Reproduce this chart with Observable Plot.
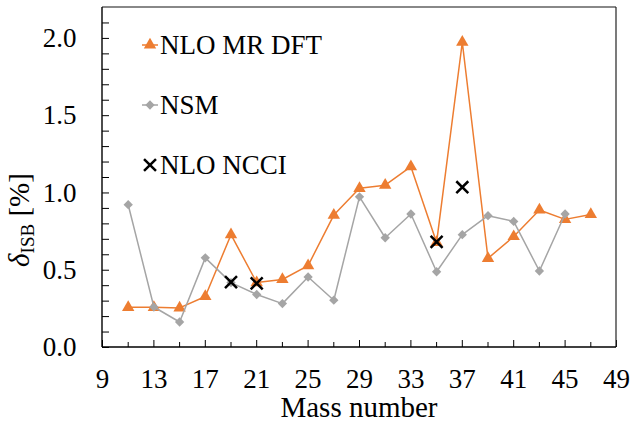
<!DOCTYPE html>
<html><head><meta charset="utf-8">
<script src="https://cdn.jsdelivr.net/npm/d3@7"></script>
<script src="https://cdn.jsdelivr.net/npm/@observablehq/plot@0.6"></script>
<style>body{margin:0;background:#fff;} svg text{font-family:"Liberation Serif", serif;}</style>
</head><body><div id="chart"></div>
<script>
// ---- data ----
const dftMass = [11,13,15,17,19,21,23,25,27,29,31,33,35,37,39,41,43,45,47];
const dftValues = [0.26,0.26,0.256,0.33,0.73,0.42,0.44,0.53,0.857,1.03,1.05,1.17,0.68,1.975,0.577,0.718,0.89,0.829,0.861];
const nsmMass = [11,13,15,17,19,21,23,25,27,29,31,33,35,37,39,41,43,45];
const nsmValues = [0.924,0.262,0.165,0.58,0.42,0.343,0.284,0.456,0.306,0.975,0.71,0.864,0.49,0.73,0.853,0.816,0.495,0.864];
const nccimass = [19,21,35,37];
const ncciValues = [0.423,0.415,0.684,1.037];
const seriesNames = ["NLO MR DFT","NSM","NLO NCCI"];
const xMajorTicks = [9,13,17,21,25,29,33,37,41,45,49];
const xMinorTicks = [11,15,19,23,27,31,35,39,43,47];
const yMajorTicks = [0,0.5,1.0,1.5,2.0];
const yMinorTicks = [0,0.1,0.2,0.3,0.4,0.5,0.6,0.7,0.8,0.9,1.0,1.1,1.2,1.3,1.4,1.5,1.6,1.7,1.8,1.9,2.0,2.1,2.2];
const xDomain = [9,49];
const yDomain = [0,2.2];

// ---- layout / style ----
const W = 631, H = 424, mL = 102, mR = 15, mT = 7, mB = 77;
const orange = "#ED7D31", gray = "#A5A5A5";
const serif = "'Liberation Serif', serif";

const dft = dftMass.map((a,i)=>({a, v: dftValues[i]}));
const nsm = nsmMass.map((a,i)=>({a, v: nsmValues[i]}));
const ncci = nccimass.map((a,i)=>({a, v: ncciValues[i]}));

const chart = Plot.plot({
  width: W, height: H,
  marginLeft: mL, marginRight: mR, marginTop: mT, marginBottom: mB,
  style: {fontFamily: serif, background: "#fff", color: "#000", overflow: "visible"},
  x: {domain: xDomain},
  y: {domain: yDomain},
  marks: [
    Plot.axisY({ticks: yMinorTicks, tickSize: 7, dx: 7, tickFormat: () => "", label: null, stroke: "#000"}),
    Plot.axisY({ticks: yMajorTicks, tickSize: 0, tickPadding: 26, tickFormat: d => d.toFixed(1), label: null, fontSize: 27}),
    Plot.axisX({ticks: xMajorTicks, tickSize: 7, dy: -7, tickFormat: () => "", label: null, stroke: "#000"}),
    Plot.axisX({ticks: xMinorTicks, tickSize: 5, dy: -5, tickFormat: () => "", label: null, stroke: "#000"}),
    Plot.axisX({ticks: xMajorTicks, tickSize: 0, tickPadding: 21, tickFormat: d => String(d), label: null, fontSize: 27}),
    Plot.line(dft, {x: "a", y: "v", stroke: orange, strokeWidth: 1.5}),
    Plot.dot(dft, {x: "a", y: "v", symbol: "triangle", r: 4.6, fill: orange}),
    Plot.line(nsm, {x: "a", y: "v", stroke: gray, strokeWidth: 1.5}),
    Plot.dot(nsm, {x: "a", y: "v", symbol: "diamond2", r: 4.2, fill: gray}),
    Plot.dot(ncci, {x: "a", y: "v", symbol: "times", r: 5.5, stroke: "#000", strokeWidth: 2.5})
  ]
});
document.getElementById("chart").appendChild(chart);

const svg = d3.select(chart);
const xs = chart.scale("x"), ys = chart.scale("y");
const fx0 = xs.apply(xDomain[0]), fx1 = xs.apply(xDomain[1]);
const fy0 = ys.apply(yDomain[0]), fy1 = ys.apply(yDomain[1]);
// plot-area border
const fr = svg.append("g").attr("fill", "none");
fr.append("line").attr("x1", fx0).attr("x2", fx1).attr("y1", fy1).attr("y2", fy1).attr("stroke", "#888").attr("stroke-width", 2);
fr.append("line").attr("x1", fx1).attr("x2", fx1).attr("y1", fy1).attr("y2", fy0).attr("stroke", "#222").attr("stroke-width", 1.2);
fr.append("line").attr("x1", fx0).attr("x2", fx0).attr("y1", fy1).attr("y2", fy0).attr("stroke", "#000").attr("stroke-width", 1.4);
fr.append("line").attr("x1", fx0).attr("x2", fx1).attr("y1", fy0).attr("y2", fy0).attr("stroke", "#000").attr("stroke-width", 1.4);

// legend (inside plot, top-left)
const legendItems = [
  {name: seriesNames[0], color: orange, sym: d3.symbolTriangle, size: Math.PI*4.6*4.6, fill: true, line: true},
  {name: seriesNames[1], color: gray, sym: d3.symbolDiamond2, size: Math.PI*4.2*4.2, fill: true, line: true},
  {name: seriesNames[2], color: "#000", sym: d3.symbolTimes, size: Math.PI*5.5*5.5, fill: false, line: false}
];
const lg = svg.append("g").attr("text-anchor", "start").attr("font-family", serif);
legendItems.forEach((it, i) => {
  const cy = mT + 38 + i*60, cx = mL + 48;
  if (it.line) lg.append("line").attr("x1", cx-8).attr("x2", cx+8).attr("y1", cy).attr("y2", cy)
      .attr("stroke", it.color).attr("stroke-width", 1.5);
  lg.append("path").attr("d", d3.symbol(it.sym, it.size)()).attr("transform", `translate(${cx},${cy})`)
    .attr("fill", it.fill ? it.color : "none").attr("stroke", it.fill ? "none" : it.color)
    .attr("stroke-width", 2.5);
  lg.append("text").attr("x", cx + 10).attr("y", cy + 8.5).attr("font-size", 27)
    .attr("font-family", serif).attr("text-anchor", "start").attr("fill", "#000").text(it.name);
});
// axis titles
svg.append("text").attr("x", (fx0 + fx1)/2).attr("y", 417).attr("text-anchor", "middle")
  .attr("font-family", serif).attr("font-size", 29).attr("fill", "#000").text("Mass number");
const yl = svg.append("text").attr("transform", `translate(29,${(fy0+fy1)/2 + 43}) rotate(-90)`)
  .attr("font-family", serif).attr("text-anchor", "middle").attr("font-size", 29).attr("fill", "#000");
yl.append("tspan").attr("font-style", "italic").text("δ");
yl.append("tspan").attr("font-size", 19).attr("dy", 5).text("ISB");
yl.append("tspan").attr("dy", -5).text("\u00a0[%]");
</script></body></html>
